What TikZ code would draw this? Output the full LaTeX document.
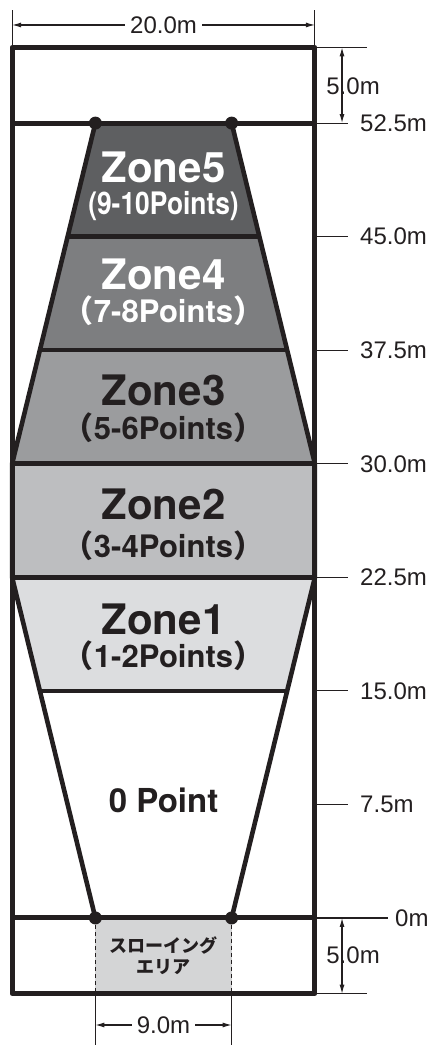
\documentclass[tikz,border=0pt]{standalone}
\usepackage{fontspec}
\usepackage{graphicx}
\setmainfont{TeX Gyre Heros}
\newfontfamily\dimfont{Liberation Sans}
\newfontfamily\jpfont{Noto Sans CJK JP}
\usetikzlibrary{arrows.meta, positioning}
\definecolor{ink}{HTML}{231F20}
\definecolor{zfive}{HTML}{5E5F61}
\definecolor{zfour}{HTML}{7D7E80}
\definecolor{zthree}{HTML}{9B9C9E}
\definecolor{ztwo}{HTML}{BDBEC0}
\definecolor{zone}{HTML}{DCDDDF}
\definecolor{throwarea}{HTML}{D4D5D6}
\newcommand{\zp}[1]{{\jpfont （}#1{\jpfont ）}}

\begin{document}
\begin{tikzpicture}[x=15.14pt, y=15.14pt,
    court/.style={line width=5pt, draw=ink, line join=round},
    zoneline/.style={line width=4.6pt, draw=ink, line join=round},
    dimline/.style={line width=1.1pt, draw=ink},
    zonetitle/.style={font=\bfseries\fontsize{42}{44}\selectfont, inner sep=0pt, anchor=base},
    zonepts/.style={font=\bfseries\fontsize{31}{33}\selectfont, inner sep=0pt, anchor=base},
    dimlabel/.style={font=\dimfont\fontsize{24}{26}\selectfont, text=ink, inner sep=0pt},
    >={Latex[length=9pt,width=5pt]}]

    \useasboundingbox (-10.8,-8.39) rectangle (17.67,60.63);

    % corners of the zones
    \coordinate (p0l) at (-4.5,0);       \coordinate (p0r) at (4.5,0);
    \coordinate (p15l) at (-8.1667,15);  \coordinate (p15r) at (8.1667,15);
    \coordinate (p22l) at (-10,22.5);    \coordinate (p22r) at (10,22.5);
    \coordinate (p30l) at (-10,30);      \coordinate (p30r) at (10,30);
    \coordinate (p37l) at (-8.1667,37.5);\coordinate (p37r) at (8.1667,37.5);
    \coordinate (p45l) at (-6.3333,45);  \coordinate (p45r) at (6.3333,45);
    \coordinate (p52l) at (-4.5,52.5);   \coordinate (p52r) at (4.5,52.5);
    \coordinate (t0l) at (-4.5,-5);      \coordinate (t0r) at (4.5,-5);
    \coordinate (l0) at (-10,0);         \coordinate (r0) at (10,0);
    \coordinate (l52) at (-10,52.5);     \coordinate (r52) at (10,52.5);
    \coordinate (cbl) at (-10,-5);       \coordinate (ctr) at (10,57.5);
    \coordinate (ctl) at (-10,57.5);     \coordinate (cbr) at (10,-5);

    \fill[zfive] (p45l) -- (p52l) -- (p52r) -- (p45r) -- cycle;
    \fill[zfour] (p37l) -- (p45l) -- (p45r) -- (p37r) -- cycle;
    \fill[zthree] (p30l) -- (p37l) -- (p37r) -- (p30r) -- cycle;
    \fill[ztwo] (p22l) -- (p30l) -- (p30r) -- (p22r) -- cycle;
    \fill[zone] (p15l) -- (p22l) -- (p22r) -- (p15r) -- cycle;
    \fill[throwarea] (p0l) rectangle (t0r);

    \draw[zoneline] (p0l) -- (p15l) -- (p22l) -- (p30l) -- (p37l) -- (p45l) -- (p52l);
    \draw[zoneline] (p0r) -- (p15r) -- (p22r) -- (p30r) -- (p37r) -- (p45r) -- (p52r);
    \draw[zoneline] (p15l) -- (p15r) (p37l) -- (p37r) (p45l) -- (p45r);
    \draw[court] (l0) -- (r0) (l52) -- (r52) (p22l) -- (p22r) (p30l) -- (p30r);
    \draw[ink, line width=1pt, dash pattern=on 4pt off 3pt] (p0l) -- (t0l) (p0r) -- (t0r);
    \draw[court] (cbl) rectangle (ctr);
    \foreach \p in {p0l,p0r,p52l,p52r}
        \fill[ink] (\p) circle (6.5pt);

    % zone labels
    \node[zonetitle, text=white] (z5) at (0,48.55) {Zone5};
    \node[zonepts, text=white] (z5p) at (0,46.43) {\scalebox{0.85}[1]{(9-10Points)}};
    \node[zonetitle, text=white] (z4) at (0,41.48) {Zone4};
    \node[zonepts, text=white] (z4p) at (0,39.3) {\zp{7-8Points}};
    \node[zonetitle, text=ink] (z3) at (0,33.88) {Zone3};
    \node[zonepts, text=ink] (z3p) at (0,31.57) {\zp{5-6Points}};
    \node[zonetitle, text=ink] (z2) at (0,26.29) {Zone2};
    \node[zonepts, text=ink] (z2p) at (0,23.84) {\zp{3-4Points}};
    \node[zonetitle, text=ink] (z1) at (0,18.69) {Zone1};
    \node[zonepts, text=ink] (z1p) at (0,16.51) {\zp{1-2Points}};
    \node[zonepts, text=ink, font=\bfseries\fontsize{33}{35}\selectfont] (z0) at (0,6.94) {0 Point};
    \node[align=center, text=ink, inner sep=0pt,
          font=\jpfont\bfseries\fontsize{18}{21}\selectfont] (throw) at (0,-2.51) {スローイング\\エリア};

    % distances on the right
    \foreach \y/\t [count=\i] in {52.5/52.5m, 45/45.0m, 37.5/37.5m, 30/30.0m, 22.5/22.5m, 15/15.0m, 7.5/7.5m} {
        \coordinate (tick\i) at (10,\y);
        \coordinate (tickend\i) at (12.18,\y);
        \draw[dimline] (tick\i) -- (tickend\i);
        \node[dimlabel, anchor=west] (lab\i) at (12.98,\y) {\t};
    }
    \coordinate (zeroend) at (14.83,0);
    \draw[dimline] (r0) -- (zeroend);
    \node[dimlabel, anchor=west] (labzero) at (15.29,0) {0m};

    % 5.0m at both ends
    \coordinate (topend) at (13.44,57.5);
    \coordinate (botend) at (13.44,-5);
    \coordinate (topa) at (11.79,57.5);  \coordinate (topb) at (11.79,52.5);
    \coordinate (bota) at (11.79,0);     \coordinate (botb) at (11.79,-5);
    \draw[dimline] (ctr) -- (topend) (cbr) -- (botend);
    \node[dimlabel] (fivetop) at (12.52,54.95) {5.0m};
    \node[dimlabel] (fivebot) at (12.52,-2.44) {5.0m};
    \draw[dimline, <->] (topa) -- (topb);
    \draw[dimline, <->] (bota) -- (botb);

    % width of the court
    \coordinate (wl) at (-10,59.97);     \coordinate (wr) at (10,59.97);
    \coordinate (wal) at (-10,58.98);    \coordinate (war) at (10,58.98);
    \draw[dimline] (ctl) -- (wl) (ctr) -- (wr);
    \draw[dimline, <->] (wal) -- (war);
    \node[dimlabel, fill=white, inner xsep=5pt] (width) at (0,58.98) {20.0m};

    % width of the throwing area
    \coordinate (sl) at (-4.5,-8.39);    \coordinate (sr) at (4.5,-8.39);
    \coordinate (sal) at (-4.5,-7.07);   \coordinate (sar) at (4.5,-7.07);
    \draw[dimline] (t0l) -- (sl) (t0r) -- (sr);
    \draw[dimline, <->] (sal) -- (sar);
    \node[dimlabel, fill=white, inner xsep=5pt] (throwwidth) at (0,-7.07) {9.0m};
\end{tikzpicture}
\end{document}
